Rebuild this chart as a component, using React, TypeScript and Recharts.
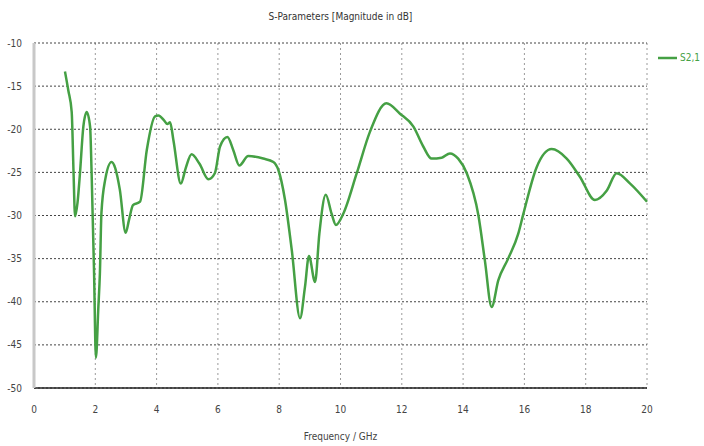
import { LineChart, Line, XAxis, YAxis, CartesianGrid } from 'recharts'

// S2,1 magnitude sweep, frequency in GHz, magnitude in dB
const frequency = [
    1.01, 1.12, 1.23, 1.29, 1.34, 1.42, 1.5, 1.61, 1.72, 1.83, 1.88, 1.96, 2.02, 2.1, 2.15, 2.2,
    2.32, 2.53, 2.65, 2.8, 2.99, 3.1, 3.23, 3.46, 3.68, 3.95, 4.06, 4.25, 4.35, 4.44, 4.55, 4.79,
    4.95, 5.14, 5.4, 5.69, 5.9, 6.07, 6.31, 6.5, 6.7, 6.99, 7.48, 7.81, 7.97, 8.19, 8.41, 8.68,
    8.84, 8.97, 9.17, 9.31, 9.52, 9.71, 9.85, 10.09, 10.53, 10.96, 11.5, 11.94, 12.38, 12.7, 12.97,
    13.3, 13.57, 13.84, 14.12, 14.5, 14.71, 14.93, 15.15, 15.47, 15.8, 15.96, 16.4, 16.89, 17.38,
    17.81, 18.3, 18.69, 19.01, 19.45, 20,
]
const s21 = [
    -13.3, -15.5, -18.0, -25.0, -30.1, -28.5, -25.1, -19.7, -18.0, -19.7, -25.1, -36.7, -46.5,
    -40.6, -36.7, -29.7, -25.9, -23.8, -24.5, -27.0, -32.0, -30.5, -28.8, -28.4, -22.4, -18.5,
    -18.4, -19.0, -19.4, -19.2, -21.3, -26.3, -24.5, -22.9, -24.0, -25.8, -25.1, -22.0, -20.9,
    -22.4, -24.2, -23.1, -23.4, -23.8, -24.7, -28.2, -34.0, -41.9, -38.3, -34.7, -37.7, -32.1,
    -27.6, -29.8, -31.1, -29.8, -25.1, -20.3, -17.0, -18.2, -19.7, -22.0, -23.4, -23.3, -22.8,
    -23.4, -25.1, -30.0, -35.2, -40.6, -37.5, -35.0, -32.1, -29.9, -24.4, -22.3, -23.4, -25.5,
    -28.2, -27.1, -25.1, -26.3, -28.4,
]
const xTicks = [0, 2, 4, 6, 8, 10, 12, 14, 16, 18, 20]
const yTicks = [-50, -45, -40, -35, -30, -25, -20, -15, -10]

const data = frequency.map((f, i) => ({ f, s21: s21[i] }))

const FONT = '"DejaVu Sans Condensed", "DejaVu Sans", sans-serif'
const GREEN = '#45a044'
const tickStyle = { fill: '#444', fontSize: 10, fontFamily: FONT, fontStretch: 'condensed' }

export default function App() {
    return (
        <div style={{ position: 'absolute', left: 0, top: 0, width: 704, height: 446, background: '#fff', overflow: 'hidden' }}>
            <div
                style={{
                    position: 'absolute',
                    top: 11,
                    left: 34,
                    width: 613,
                    textAlign: 'center',
                    fontFamily: FONT,
                    fontStretch: 'condensed',
                    fontSize: 10,
                    color: '#333',
                }}
            >
                S-Parameters [Magnitude in dB]
            </div>
            {/* legend entry, sits to the right of the frame */}
            <div
                style={{
                    position: 'absolute',
                    top: 52,
                    left: 658,
                    display: 'flex',
                    alignItems: 'center',
                    fontFamily: FONT,
                    fontStretch: 'condensed',
                    fontSize: 10,
                    color: GREEN,
                    whiteSpace: 'nowrap',
                }}
            >
                <svg width={19} height={6}>
                    <line x1={0} y1={3} x2={19} y2={3} stroke={GREEN} strokeWidth={2.5} />
                </svg>
                <span style={{ marginLeft: 3 }}>S2,1</span>
            </div>
            <LineChart width={704} height={446} data={data} margin={{ top: 43, right: 57, bottom: 0, left: 0 }}>
                <CartesianGrid horizontal={false} stroke="#9a9a9a" strokeDasharray="2 3" />
                <CartesianGrid vertical={false} stroke="#444" strokeDasharray="2 2" />
                <XAxis
                    dataKey="f"
                    type="number"
                    domain={[0, 20]}
                    ticks={xTicks}
                    height={58}
                    axisLine={{ stroke: '#222', strokeWidth: 1.5 }}
                    tickLine={false}
                    tickMargin={12}
                    tick={tickStyle}
                    label={{
                        value: 'Frequency / GHz',
                        position: 'insideBottom',
                        offset: 6,
                        style: tickStyle,
                    }}
                />
                <YAxis
                    type="number"
                    domain={[-50, -10]}
                    ticks={yTicks}
                    width={34}
                    axisLine={{ stroke: '#c8c8c8', strokeWidth: 3 }}
                    tickLine={false}
                    tickMargin={6}
                    tick={tickStyle}
                />
                <YAxis yAxisId="frame" orientation="right" width={0} domain={[0, 1]} tick={false} axisLine={{ stroke: '#999', strokeWidth: 1.5 }} />
                <XAxis xAxisId="frame" orientation="top" height={0} tick={false} axisLine={{ stroke: '#999', strokeWidth: 3 }} />
                <Line
                    type="monotone"
                    dataKey="s21"
                    name="S2,1"
                    stroke={GREEN}
                    strokeWidth={2.5}
                    dot={false}
                    isAnimationActive={false}
                />
            </LineChart>
        </div>
    )
}
